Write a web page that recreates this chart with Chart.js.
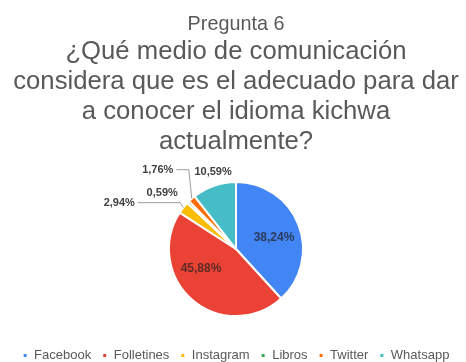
<!DOCTYPE html>
<html lang="es">
<head>
<meta charset="UTF-8">
<title>Pregunta 6</title>
<script src="https://cdn.jsdelivr.net/npm/chart.js@4.4.1/dist/chart.umd.min.js"></script>
<style>
  html, body { margin: 0; padding: 0; background: #ffffff; }
  #wrap { width: 466px; height: 362px; }
</style>
</head>
<body>
<div id="wrap"><canvas id="pie"></canvas></div>
<script>
// survey answers (percent)
const categories = ['Facebook', 'Folletines', 'Instagram', 'Libros', 'Twitter', 'Whatsapp'];
const percentages = [38.24, 45.88, 2.94, 0.59, 1.76, 10.59];
const sliceColors = ['#4285F4', '#EA4335', '#FBBC04', '#34A853', '#FF6D01', '#46BDC6'];

const titleLine = 'Pregunta 6';
const questionLines = [
  '¿Qué medio de comunicación',
  'considera que es el adecuado para dar',
  'a conocer el idioma kichwa',
  'actualmente?'
];

// value label offsets: inside ones from the pie centre, outside ones from the slice edge
const labelPlacement = [
  { inside: true, dx: 38, dy: -11, color: '#2c3b5c' },
  { inside: true, dx: -35, dy: 20, color: '#5e2a26' },
  { dx: -64, dy: -5, line: true },
  { dx: -26, dy: -9, line: false },
  { dx: -34, dy: -29, line: true },
  { dx: -1, dy: -14, line: false }
];

const fmt = v => v.toFixed(2).replace('.', ',') + '%';

const valueLabels = {
  id: 'valueLabels',
  afterDatasetsDraw(chart) {
    const ctx = chart.ctx;
    const arcs = chart.getDatasetMeta(0).data;
    ctx.save();
    ctx.textAlign = 'center';
    ctx.textBaseline = 'middle';
    arcs.forEach((arc, i) => {
      const p = labelPlacement[i];
      const mid = (arc.startAngle + arc.endAngle) / 2;
      const text = fmt(percentages[i]);
      if (p.inside) {
        ctx.font = 'bold 12px "Liberation Sans", Arial, sans-serif';
        ctx.fillStyle = p.color;
        ctx.fillText(text, arc.x + p.dx, arc.y + p.dy);
        return;
      }
      ctx.font = 'bold 11px "Liberation Sans", Arial, sans-serif';
      const ex = arc.x + Math.cos(mid) * arc.outerRadius;
      const ey = arc.y + Math.sin(mid) * arc.outerRadius;
      const lx = ex + p.dx;
      const ly = ey + p.dy;
      if (p.line) {
        const w = ctx.measureText(text).width;
        ctx.strokeStyle = '#9e9e9e';
        ctx.lineWidth = 1;
        ctx.beginPath();
        ctx.moveTo(lx + w / 2 + 3, ly);
        ctx.lineTo(ex - 3, ly);
        ctx.lineTo(ex, ey);
        ctx.stroke();
      }
      ctx.fillStyle = '#404040';
      ctx.fillText(text, lx, ly);
    });
    ctx.restore();
  }
};

new Chart(document.getElementById('pie'), {
  type: 'pie',
  data: {
    labels: categories,
    datasets: [{
      data: percentages,
      backgroundColor: sliceColors,
      borderColor: '#ffffff',
      borderWidth: 2,
      radius: 67
    }]
  },
  options: {
    responsive: true,
    maintainAspectRatio: false,
    animation: false,
    layout: { padding: { top: 0, bottom: -10, left: 6, right: 0 } },
    plugins: {
      title: {
        display: true,
        text: titleLine,
        color: '#595959',
        font: { family: '"Liberation Sans", Arial, sans-serif', size: 19.8, weight: 'normal' },
        padding: { top: 13, bottom: 0 }
      },
      subtitle: {
        display: true,
        text: questionLines,
        color: '#595959',
        font: { family: '"Liberation Sans", Arial, sans-serif', size: 25.7, weight: 'normal', lineHeight: 1.17 },
        padding: { top: 0, bottom: 3 }
      },
      legend: {
        position: 'bottom',
        labels: {
          color: '#595959',
          font: { family: '"Liberation Sans", Arial, sans-serif', size: 13 },
          boxWidth: 5,
          boxHeight: 5,
          padding: 11
        }
      },
      tooltip: { enabled: false }
    }
  },
  plugins: [valueLabels]
});
</script>
</body>
</html>
